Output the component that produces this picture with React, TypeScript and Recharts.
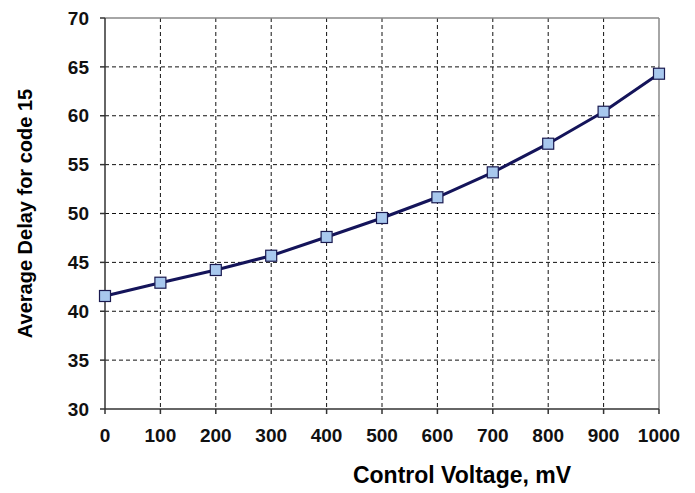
import { CartesianGrid, Label, Line, LineChart, ReferenceLine, XAxis, YAxis } from "recharts";

const voltages = [0, 100, 200, 300, 400, 500, 600, 700, 800, 900, 1000];
const delays = [41.56, 42.92, 44.22, 45.68, 47.6, 49.54, 51.66, 54.21, 57.14, 60.41, 64.3];
const yTicks = [30, 35, 40, 45, 50, 55, 60, 65, 70];
const gridY = [35, 40, 45, 50, 55, 60, 65];
const gridX = [100, 200, 300, 400, 500, 600, 700, 800, 900];

const data = voltages.map((v, i) => ({ v, delay: delays[i] }));

const font = "'Liberation Sans', Arial, sans-serif";
const tickStyle = { fontSize: 19, fontWeight: 700, fill: "#111", fontFamily: font };

function SquareDot(props: { cx?: number; cy?: number; index?: number }) {
  const { cx, cy } = props;
  if (cx == null || cy == null) return null;
  return <rect key={props.index} x={cx - 5.5} y={cy - 5.5} width={11} height={11} fill="#a8c8ee" stroke="#1a1a50" strokeWidth={1.2} />;
}

export default function App() {
  return (
    <div style={{ position: "absolute", left: 0, top: 0, background: "#fff" }}>
      <LineChart width={695} height={493} data={data} margin={{ top: 18, right: 36, bottom: 0, left: 0 }}>
        <CartesianGrid
          stroke="#111"
          strokeDasharray="4 3"
          horizontalValues={gridY}
          verticalValues={gridX}
        />
        <ReferenceLine y={70} stroke="#888" strokeWidth={1.5} />
        <ReferenceLine x={1000} stroke="#888" strokeWidth={1.5} />
        <XAxis
          dataKey="v"
          type="number"
          domain={[0, 1000]}
          ticks={voltages}
          height={84}
          tick={tickStyle}
          tickSize={5}
          tickMargin={15}
          stroke="#333"
          strokeWidth={1.5}
        >
          <Label
            value="Control Voltage, mV"
            position="insideBottom"
            offset={10}
            dx={80}
            style={{ fontSize: 23, fontWeight: 700, fill: "#000", fontFamily: font }}
          />
        </XAxis>
        <YAxis
          type="number"
          domain={[30, 70]}
          ticks={yTicks}
          width={105}
          tick={tickStyle}
          tickSize={5}
          tickMargin={11}
          stroke="#333"
          strokeWidth={1.5}
        >
          <Label
            value="Average Delay for code 15"
            angle={-90}
            position="insideLeft"
            offset={0}
            dx={25}
            style={{ fontSize: 20, fontWeight: 700, fill: "#000", fontFamily: font, textAnchor: "middle" }}
          />
        </YAxis>
        <Line
          dataKey="delay"
          type="linear"
          stroke="#14145a"
          strokeWidth={3}
          dot={<SquareDot />}
          isAnimationActive={false}
        />
      </LineChart>
    </div>
  );
}
